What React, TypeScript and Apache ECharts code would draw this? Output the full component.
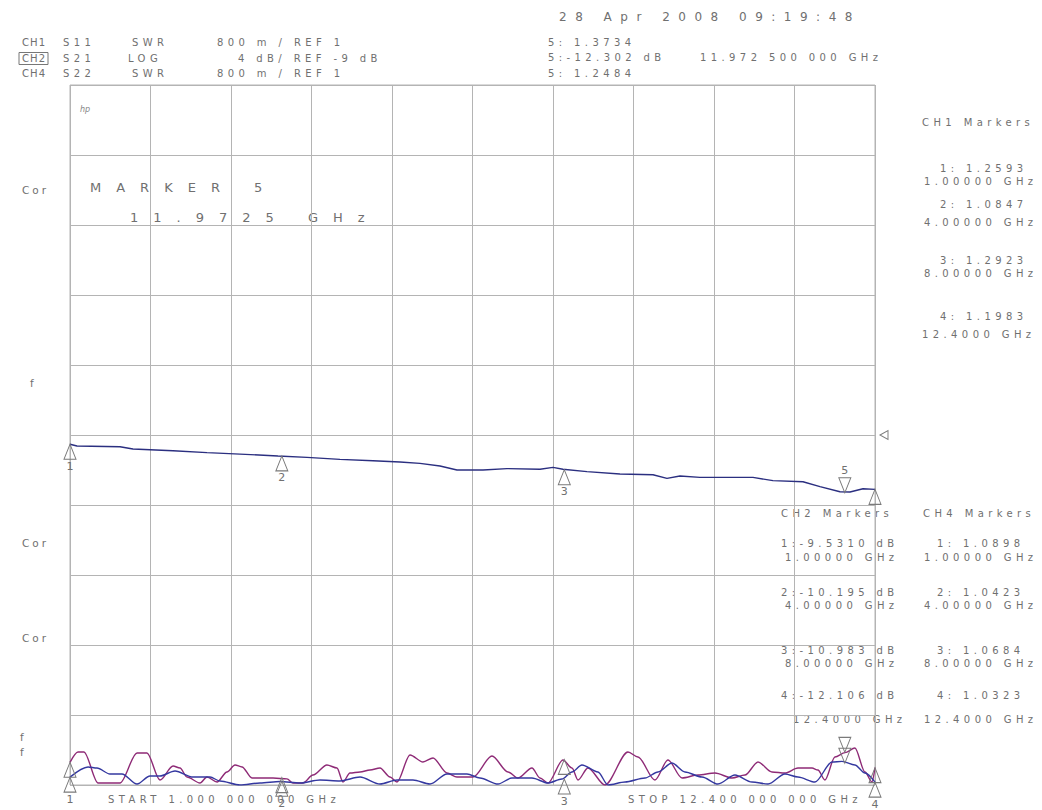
import React, { useEffect, useRef } from "react";
import * as echarts from "echarts";

// ---- trace data (frequency in GHz) ----
const ch2Freqs = [1.0, 1.099, 1.708, 1.892, 2.459, 2.94, 3.407, 3.945, 4.356, 4.823, 5.291, 5.673, 5.956, 6.24, 6.48, 6.849, 7.188, 7.656, 7.84, 7.981, 8.321, 8.788, 9.256, 9.454, 9.638, 9.921, 10.672, 10.955, 11.38, 11.621, 11.904, 12.046, 12.23, 12.4];
const ch2Values = [-9.53, -9.63, -9.67, -9.8, -9.9, -10.01, -10.09, -10.2, -10.28, -10.39, -10.47, -10.54, -10.62, -10.77, -11.0, -11.0, -10.92, -10.96, -10.85, -10.96, -11.09, -11.23, -11.27, -11.48, -11.34, -11.42, -11.42, -11.61, -11.67, -11.95, -12.24, -12.26, -12.07, -12.11];

const ch1Freqs = [1.0, 1.113, 1.198, 1.397, 1.708, 1.949, 2.09, 2.274, 2.459, 2.558, 2.657, 2.841, 2.94, 3.082, 3.223, 3.337, 3.436, 3.577, 3.875, 4.073, 4.158, 4.3, 4.441, 4.639, 4.781, 4.866, 4.965, 5.107, 5.248, 5.39, 5.532, 5.631, 5.815, 5.999, 6.141, 6.339, 6.48, 6.707, 6.976, 7.203, 7.344, 7.542, 7.656, 7.769, 7.981, 8.109, 8.194, 8.335, 8.576, 8.902, 9.043, 9.284, 9.468, 9.667, 9.893, 10.134, 10.375, 10.559, 10.743, 10.941, 11.125, 11.309, 11.508, 11.592, 11.691, 11.833, 11.975, 12.116, 12.258, 12.357, 12.4];
const ch1Values = [1.2593, 1.377, 1.377, 1.023, 1.023, 1.366, 1.366, 1.057, 1.217, 1.194, 1.091, 1.023, 1.091, 1.034, 1.149, 1.229, 1.206, 1.08, 1.08, 1.07, 1.023, 1.023, 1.114, 1.229, 1.194, 1.034, 1.137, 1.149, 1.171, 1.194, 1.091, 1.034, 1.343, 1.263, 1.309, 1.137, 1.091, 1.091, 1.331, 1.149, 1.08, 1.194, 1.08, 1.023, 1.286, 1.194, 1.057, 1.194, 1.0, 1.377, 1.32, 1.057, 1.286, 1.08, 1.114, 1.137, 1.08, 1.114, 1.263, 1.149, 1.137, 1.194, 1.194, 1.171, 1.057, 1.32, 1.37, 1.423, 1.149, 1.034, 1.1983];

const ch4Freqs = [1.0, 1.255, 1.382, 1.566, 1.736, 1.949, 2.133, 2.274, 2.487, 2.742, 2.983, 3.124, 3.407, 3.691, 3.974, 4.257, 4.54, 4.823, 5.107, 5.39, 5.631, 5.857, 6.098, 6.339, 6.622, 6.806, 7.061, 7.259, 7.542, 7.769, 7.967, 8.109, 8.25, 8.477, 8.619, 8.86, 9.143, 9.327, 9.525, 9.709, 9.95, 10.176, 10.417, 10.658, 10.885, 11.125, 11.309, 11.55, 11.791, 11.932, 12.116, 12.258, 12.4];
const ch4Values = [1.0898, 1.206, 1.194, 1.126, 1.126, 1.011, 1.103, 1.103, 1.16, 1.091, 1.091, 1.046, 1.0, 1.023, 1.04, 1.023, 1.057, 1.046, 1.091, 1.011, 1.057, 1.057, 1.011, 1.126, 1.126, 1.08, 1.011, 1.08, 1.08, 1.023, 1.068, 1.149, 1.229, 1.149, 1.0, 1.034, 1.08, 1.149, 1.251, 1.149, 1.091, 1.011, 1.114, 1.034, 1.011, 1.126, 1.091, 1.034, 1.263, 1.27, 1.229, 1.137, 1.0323];

// ---- markers ----
const markerFreqs = [1, 4, 8, 12.4];
const ch1MarkerVals = [1.2593, 1.0847, 1.2923, 1.1983];
const ch2MarkerVals = [-9.531, -10.195, -10.983, -12.106];
const ch4MarkerVals = [1.0898, 1.0423, 1.0684, 1.0323];
const marker5Freq = 11.9725;
const marker5Vals = { ch1: 1.3734, ch2: -12.302, ch4: 1.2484 };

// ---- header texts ----
const headerChannels = ["CH1", "CH2", "CH4"];
const headerParams = ["S11", "S21", "S22"];
const headerFormats = ["SWR", "LOG", "SWR"];
const headerScales = ["800 m / REF 1", "4 dB/ REF -9 dB", "800 m / REF 1"];
const dateText = "28 Apr 2008 09:19:48";
const startText = "START 1.000 000 000 GHz";
const stopText = "STOP 12.400 000 000 GHz";

const GRAY = "#707070";
const GRID = "#b4b4b4";
const FONT = "DejaVu Sans";

const triUp = "path://M5,0L10,14L0,14Z";
const triDown = "path://M0,0L10,0L5,14Z";
const triLeft = "path://M10,0L10,10L0,5Z";

const spacingBySize: Record<number, number> = { 10: 4.4, 10.1: 1, 10.5: 3, 12: 8.5, 13: 15 };

function txt(text: string, x: number, y: number, size = 10, extra: any = {}) {
  return {
    type: "text",
    x,
    y,
    silent: true,
    style: {
      text,
      fill: GRAY,
      fontSize: size,
      fontFamily: FONT,
      align: "left",
      verticalAlign: "middle",
      ...extra,
    },
  };
}

const freqLabel = (f: number) => `${f.toPrecision(6)} GHz`;

export default function App() {
  const ref = useRef<HTMLDivElement>(null);
  useEffect(() => {
    const el = ref.current!;
    const chart = echarts.init(el, undefined, { renderer: "svg" });

    const rowY = [42, 58, 73];
    const graphics: any[] = [];
    headerChannels.forEach((c, i) => {
      graphics.push(txt(c, 22, rowY[i], 10.1));
      graphics.push(txt(headerParams[i], 63, rowY[i]));
      graphics.push(txt(headerFormats[i], i === 1 ? 128 : 132, rowY[i]));
      graphics.push(txt(headerScales[i], i === 1 ? 238 : 217, rowY[i]));
    });
    graphics.push({
      type: "rect",
      silent: true,
      shape: { x: 19, y: 52.5, width: 29, height: 12 },
      style: { fill: "none", stroke: "#777", lineWidth: 1 },
    });
    graphics.push(txt(dateText, 559, 17, 12));
    graphics.push(txt(`5: ${marker5Vals.ch1.toFixed(4)}`, 548, 42));
    graphics.push(txt(`5:${marker5Vals.ch2.toFixed(3)} dB`, 548, 57.5));
    graphics.push(txt("11.972 500 000 GHz", 700, 57.5));
    graphics.push(txt(`5: ${marker5Vals.ch4.toFixed(4)}`, 548, 73));

    // left side annotations
    graphics.push(txt("Cor", 22, 190, 10.5));
    graphics.push(txt("f", 30, 383, 10.5));
    graphics.push(txt("Cor", 22, 543, 10.5));
    graphics.push(txt("Cor", 22, 638, 10.5));
    graphics.push(txt("f", 20, 737, 10.5));
    graphics.push(txt("f", 20, 752, 10.5));
    graphics.push(txt("hp", 80, 109, 8, { fontStyle: "italic", fill: "#888" }));

    graphics.push(txt("MARKER 5", 90, 187, 13));
    graphics.push(txt(`${marker5Freq.toFixed(4)} GHz`, 130, 217, 13));

    // CH1 markers block
    graphics.push(txt("CH1 Markers", 922, 122));
    const ch1Y = [[168, 181], [204, 222], [260, 273], [316, 334]];
    markerFreqs.forEach((f, i) => {
      graphics.push(txt(`${i + 1}: ${ch1MarkerVals[i].toFixed(4)}`, 940, ch1Y[i][0]));
      graphics.push(txt(freqLabel(f), f >= 10 ? 922 : 924, ch1Y[i][1]));
    });
    // CH2 / CH4 markers blocks
    graphics.push(txt("CH2 Markers", 781, 513));
    graphics.push(txt("CH4 Markers", 923, 513));
    const lowY = [[543, 557], [592, 605], [650, 663], [695, 719]];
    markerFreqs.forEach((f, i) => {
      graphics.push(txt(`${i + 1}:${ch2MarkerVals[i].toPrecision(5)} dB`, 781, lowY[i][0]));
      graphics.push(txt(freqLabel(f), f >= 10 ? 793 : 785, lowY[i][1]));
      graphics.push(txt(`${i + 1}: ${ch4MarkerVals[i].toFixed(4)}`, 937, lowY[i][0]));
      graphics.push(txt(freqLabel(f), 924, lowY[i][1]));
    });
    graphics.push(txt(startText, 108, 799));
    graphics.push(txt(stopText, 628, 799));

    const markLabel = {
      show: true,
      position: "bottom",
      distance: 1,
      formatter: "{b}",
      color: GRAY,
      fontSize: 11,
      fontFamily: FONT,
    };
    const markItem = {
      color: "rgba(255,255,255,0)",
      borderColor: "#7a7a7a",
      borderWidth: 1,
    };
    const baseMark = {
      symbol: triUp,
      symbolSize: [12, 15],
      symbolOffset: [0, 7.5],
      silent: true,
      itemStyle: markItem,
      label: markLabel,
    };

    chart.setOption({
      animation: false,
      backgroundColor: "#ffffff",
      grid: {
        left: 70,
        right: 167,
        top: 85,
        bottom: 25,
        show: true,
        borderColor: GRID,
        borderWidth: 1,
        backgroundColor: "transparent",
      },
      xAxis: [
        { type: "value", min: 1, max: 12.4, show: false },
        {
          type: "value",
          min: 0,
          max: 10,
          interval: 1,
          position: "top",
          axisLine: { show: false },
          axisTick: { show: false },
          axisLabel: { show: false },
          splitLine: { show: true, lineStyle: { color: GRID, width: 1 } },
        },
      ],
      yAxis: [
        { type: "value", min: -29, max: 11, show: false },
        { type: "value", min: 1, max: 9, show: false },
        {
          type: "value",
          min: 0,
          max: 10,
          interval: 1,
          position: "right",
          axisLine: { show: false },
          axisTick: { show: false },
          axisLabel: { show: false },
          splitLine: { show: true, lineStyle: { color: GRID, width: 1 } },
        },
      ],
      series: [
        {
          type: "line",
          name: "CH2 S21",
          xAxisIndex: 0,
          yAxisIndex: 0,
          data: ch2Freqs.map((f, i) => [f, ch2Values[i]]),
          symbol: "none",
          lineStyle: { color: "#2b2f80", width: 1.4 },
          itemStyle: { color: "#2b2f80" },
          z: 4,
          markPoint: {
            ...baseMark,
            data: [
              ...markerFreqs.map((f, i) => ({
                name: String(i + 1),
                coord: [f, ch2MarkerVals[i]],
                label: i === 3 ? { show: false } : undefined,
              })),
              {
                name: "5",
                coord: [marker5Freq, marker5Vals.ch2],
                symbol: triDown,
                symbolOffset: [0, -7.5],
                label: { position: "top" },
              },
              {
                name: "",
                coord: [12.4, -9],
                symbol: triLeft,
                symbolSize: [8, 9],
                symbolOffset: [9, 0],
                label: { show: false },
              },
            ],
          },
        },
        {
          type: "line",
          name: "CH1 S11",
          xAxisIndex: 0,
          yAxisIndex: 1,
          data: ch1Freqs.map((f, i) => [f, ch1Values[i]]),
          symbol: "none",
          smooth: 0.3,
          smoothMonotone: "x",
          lineStyle: { color: "#8e2a76", width: 1.4 },
          itemStyle: { color: "#8e2a76" },
          z: 3,
          markPoint: {
            ...baseMark,
            label: { show: false },
            data: [
              ...markerFreqs.map((f, i) => ({ name: String(i + 1), coord: [f, ch1MarkerVals[i]] })),
              {
                name: "5",
                coord: [marker5Freq, marker5Vals.ch1],
                symbol: triDown,
                symbolOffset: [0, -7.5],
              },
            ],
          },
        },
        {
          type: "line",
          name: "CH4 S22",
          xAxisIndex: 0,
          yAxisIndex: 1,
          data: ch4Freqs.map((f, i) => [f, ch4Values[i]]),
          symbol: "none",
          smooth: 0.3,
          smoothMonotone: "x",
          lineStyle: { color: "#3438a0", width: 1.4 },
          itemStyle: { color: "#3438a0" },
          z: 3,
          markPoint: {
            ...baseMark,
            data: [
              ...markerFreqs.map((f, i) => ({ name: String(i + 1), coord: [f, ch4MarkerVals[i]] })),
              {
                name: "5",
                coord: [marker5Freq, marker5Vals.ch4],
                symbol: triDown,
                symbolOffset: [0, -7.5],
                label: { show: false },
              },
            ],
          },
        },
      ],
      graphic: graphics,
    });

    const applySpacing = () => {
      el.querySelectorAll("text").forEach((t) => {
        const fs = parseFloat(getComputedStyle(t).fontSize);
        const sp = spacingBySize[fs];
        if (sp !== undefined) (t as SVGTextElement).style.letterSpacing = sp + "px";
      });
    };
    applySpacing();
    chart.on("finished", applySpacing);
    const timer = setTimeout(applySpacing, 50);

    return () => {
      clearTimeout(timer);
      chart.dispose();
    };
  }, []);

  return (
    <div
      ref={ref}
      style={{ position: "fixed", left: 0, top: 0, width: 1042, height: 810, background: "#fff" }}
    />
  );
}
